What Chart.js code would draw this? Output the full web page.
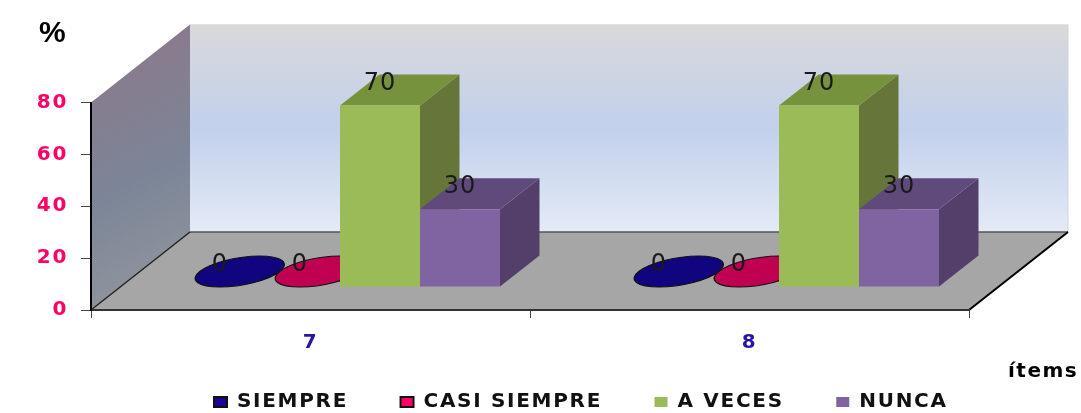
<!DOCTYPE html>
<html>
<head>
<meta charset="utf-8">
<script src="https://cdn.jsdelivr.net/npm/chart.js@4/dist/chart.umd.min.js"></script>
<style>
    html, body { margin: 0; padding: 0; background: #fff; }
    canvas { display: block; }
</style>
</head>
<body>
<canvas id="chart3d" width="1081" height="413"></canvas>
<script>
const categories = ['7', '8'];
const seriesNames = ['SIEMPRE', 'CASI SIEMPRE', 'A VECES', 'NUNCA'];
const siempre = [0, 0];
const casiSiempre = [0, 0];
const aVeces = [70, 70];
const nunca = [30, 30];
const yTicks = [0, 20, 40, 60, 80];

const legendColors = ['#1a0599', '#ff0066', '#9bbb59', '#8064a2'];
const topColors = ['#10057f', '#c00050', '#76923c', '#604a7b'];
const sideColors = ['#10057f', '#c00050', '#66763a', '#543f6b'];

// fake 3d: depth of the room, and depth of a bar + where its front plane sits
const room = { dx: 99, dy: 78 };
const bar3d = { dx: 39.5, dy: 31, shiftX: 29.5, shiftY: 23 };
const FONT = '"DejaVu Sans"';
const LEGEND_GAP = 52.5;

function poly(ctx, pts, fill) {
    ctx.beginPath();
    pts.forEach((p, i) => i ? ctx.lineTo(p[0], p[1]) : ctx.moveTo(p[0], p[1]));
    ctx.closePath();
    ctx.fillStyle = fill;
    ctx.fill();
}

function line(ctx, x1, y1, x2, y2, color, width) {
    ctx.beginPath();
    ctx.moveTo(x1, y1);
    ctx.lineTo(x2, y2);
    ctx.strokeStyle = color;
    ctx.lineWidth = width;
    ctx.stroke();
}

const roomPlugin = {
    id: 'room',
    beforeLayout(chart) {
        // the original is a stretched picture, so all axis and legend text runs wide
        chart.ctx.letterSpacing = '1.7px';
    },
    afterLayout(chart) {
        const legend = chart.legend;
        legend.left = 214 - LEGEND_GAP;
        legend.right = 1300; // keep NUNCA on the first row
        legend.top = 402 - 10 - LEGEND_GAP;
    },
    beforeDraw(chart) {
        const { ctx, chartArea: a } = chart;
        const dx = room.dx, dy = room.dy;

        const wall = ctx.createLinearGradient(0, a.top - dy, 0, a.bottom - dy);
        wall.addColorStop(0, '#d9d9da');
        wall.addColorStop(0.5, '#c2d0ec');
        wall.addColorStop(1, '#e4eaf6');
        ctx.fillStyle = wall;
        ctx.fillRect(a.left + dx, a.top - dy, a.right - a.left, a.bottom - a.top);
        line(ctx, a.right + dx, a.top - dy, a.right + dx, a.bottom - dy, '#cfd3da', 1);
        line(ctx, a.left + dx, a.top - dy, a.right + dx, a.top - dy, '#e2e2e2', 1);

        const side = ctx.createLinearGradient(a.left, a.top - 40, a.left + dx, a.bottom - 40);
        side.addColorStop(0, '#8a7a8c');
        side.addColorStop(0.55, '#7b8597');
        side.addColorStop(1, '#8f949d');
        poly(ctx, [[a.left, a.top], [a.left + dx, a.top - dy], [a.left + dx, a.bottom - dy], [a.left, a.bottom]], side);

        poly(ctx, [[a.left, a.bottom], [a.left + dx, a.bottom - dy], [a.right + dx, a.bottom - dy], [a.right, a.bottom]], '#a6a6a6');
        line(ctx, a.left + dx, a.bottom - dy, a.right + dx, a.bottom - dy, '#555', 1.5);
        line(ctx, a.left, a.bottom, a.left + dx, a.bottom - dy, '#222', 1.5);
        line(ctx, a.right, a.bottom, a.right + dx, a.bottom - dy, '#000', 2);
    },
    beforeDatasetsDraw(chart) {
        const ctx = chart.ctx;
        const dx = bar3d.dx, dy = bar3d.dy;
        ctx.save();
        ctx.translate(bar3d.shiftX, -bar3d.shiftY);

        // left to right, otherwise the tall bars end up behind the ellipses
        chart.data.datasets.forEach((ds, i) => {
            const meta = chart.getDatasetMeta(i);
            meta.data.forEach((b, j) => {
                const l = b.x - b.width / 2, r = b.x + b.width / 2;
                if (ds.data[j] === 0) {
                    // zero value: only the flat top is left, an ellipse inside the bar footprint
                    ctx.save();
                    ctx.transform(b.width / 2, 0, dx / 2, -dy / 2, b.x + dx / 2, b.base - dy / 2);
                    ctx.beginPath();
                    ctx.arc(0, 0, 1, 0, Math.PI * 2);
                    ctx.restore();
                    ctx.fillStyle = topColors[i];
                    ctx.fill();
                    ctx.strokeStyle = '#111';
                    ctx.lineWidth = 1.2;
                    ctx.stroke();
                } else {
                    poly(ctx, [[r, b.y], [r + dx, b.y - dy], [r + dx, b.base - dy], [r, b.base]], sideColors[i]);
                    poly(ctx, [[l, b.y], [l + dx, b.y - dy], [r + dx, b.y - dy], [r, b.y]], topColors[i]);
                }
            });
            meta.controller.draw();
        });

        ctx.letterSpacing = '1px';
        ctx.font = '24px ' + FONT;
        ctx.fillStyle = '#1a1a1a';
        ctx.textAlign = 'center';
        ctx.textBaseline = 'middle';
        chart.data.datasets.forEach((ds, i) => {
            chart.getDatasetMeta(i).data.forEach((b, j) => {
                ctx.fillText(ds.data[j], b.x, b.y - 22);
            });
        });
        ctx.restore();
        return false;
    },
    afterDraw(chart) {
        const ctx = chart.ctx;
        ctx.save();
        ctx.fillStyle = '#000';
        ctx.textAlign = 'left';
        ctx.textBaseline = 'alphabetic';
        ctx.letterSpacing = '0px';
        ctx.font = 'bold 30px "Liberation Sans"';
        ctx.fillText('%', 39, 42);
        ctx.letterSpacing = '1.5px';
        ctx.font = 'bold 20px ' + FONT;
        ctx.fillText('ítems', 1008, 377);
        ctx.restore();
    }
};

const datasets = [siempre, casiSiempre, aVeces, nunca].map((values, i) => ({
    label: seriesNames[i],
    data: values,
    backgroundColor: legendColors[i],
    borderColor: i < 2 ? '#111' : legendColors[i],
    borderWidth: i < 2 ? 2 : 0,
    categoryPercentage: 320 / 439,
    barPercentage: 1
}));

new Chart(document.getElementById('chart3d').getContext('2d'), {
    type: 'bar',
    data: { labels: categories, datasets: datasets },
    plugins: [roomPlugin],
    options: {
        responsive: false,
        animation: false,
        layout: {
            autoPadding: false,
            padding: { top: 102.5, left: 0, right: 112, bottom: 0 }
        },
        plugins: {
            title: { display: false },
            tooltip: { enabled: false },
            legend: {
                position: 'bottom',
                align: 'start',
                maxHeight: 20,
                labels: {
                    boxWidth: 13,
                    boxHeight: 10,
                    padding: LEGEND_GAP,
                    color: '#111',
                    font: { family: FONT, size: 20, weight: 'bold' }
                }
            }
        },
        scales: {
            x: {
                afterFit(scale) { scale.height = 83; },
                grid: { offset: true, drawOnChartArea: false, tickLength: 8, color: '#444', lineWidth: 1 },
                border: { color: '#333', width: 2 },
                ticks: {
                    padding: 13,
                    color: '#2a14a8',
                    maxRotation: 0,
                    font: { family: FONT, size: 20, weight: 'bold' }
                }
            },
            y: {
                min: yTicks[0],
                max: yTicks[yTicks.length - 1],
                afterFit(scale) { scale.width = 91; },
                afterBuildTicks(scale) { scale.ticks = yTicks.map(v => ({ value: v })); },
                grid: { drawOnChartArea: false, tickLength: 10, color: '#444', lineWidth: 1 },
                border: { color: '#000', width: 2 },
                ticks: {
                    padding: 13,
                    color: '#ff0066',
                    font: { family: FONT, size: 20, weight: 'bold' }
                }
            }
        }
    }
});
</script>
</body>
</html>
